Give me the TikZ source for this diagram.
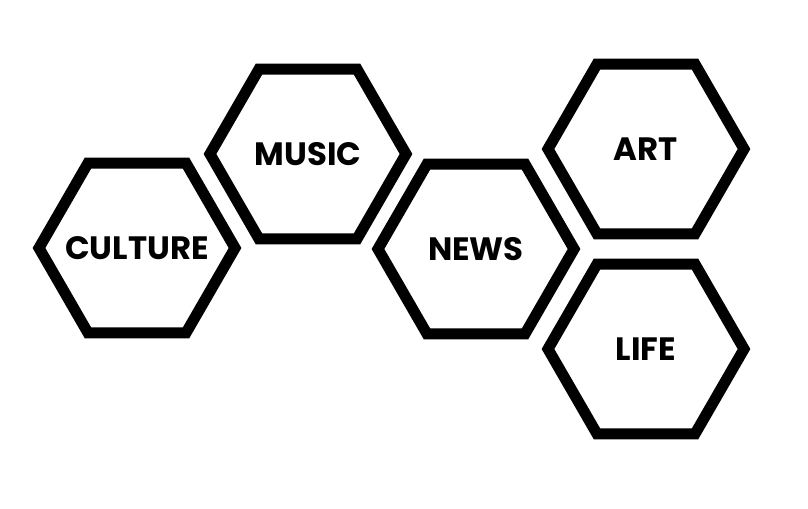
\documentclass[tikz,border=0pt]{standalone}
\usepackage{fontspec}
\setmainfont{Poppins}
\usetikzlibrary{shapes.geometric}
\begin{document}
\begin{tikzpicture}[x=0.025cm,y=-0.025cm]
          \tikzset{hex tile/.style={draw,regular polygon,regular polygon sides=6,minimum size=4.9cm,inner sep=0pt,line width=0.275cm,
              label={[font=\fontsize{23}{27}\selectfont\bfseries]center:#1}}}

          \useasboundingbox (0,0) rectangle (808,508);

          \node [hex tile=CULTURE] (culture) at (137,248) {};
          \node [hex tile=MUSIC] (music) at (308,154) {};
          \node [hex tile=NEWS] (news) at (476,249) {};
          \node [hex tile=ART] (art) at (646,149) {};
          \node [hex tile=LIFE] (life) at (646,349) {};

        \end{tikzpicture}
\end{document}
